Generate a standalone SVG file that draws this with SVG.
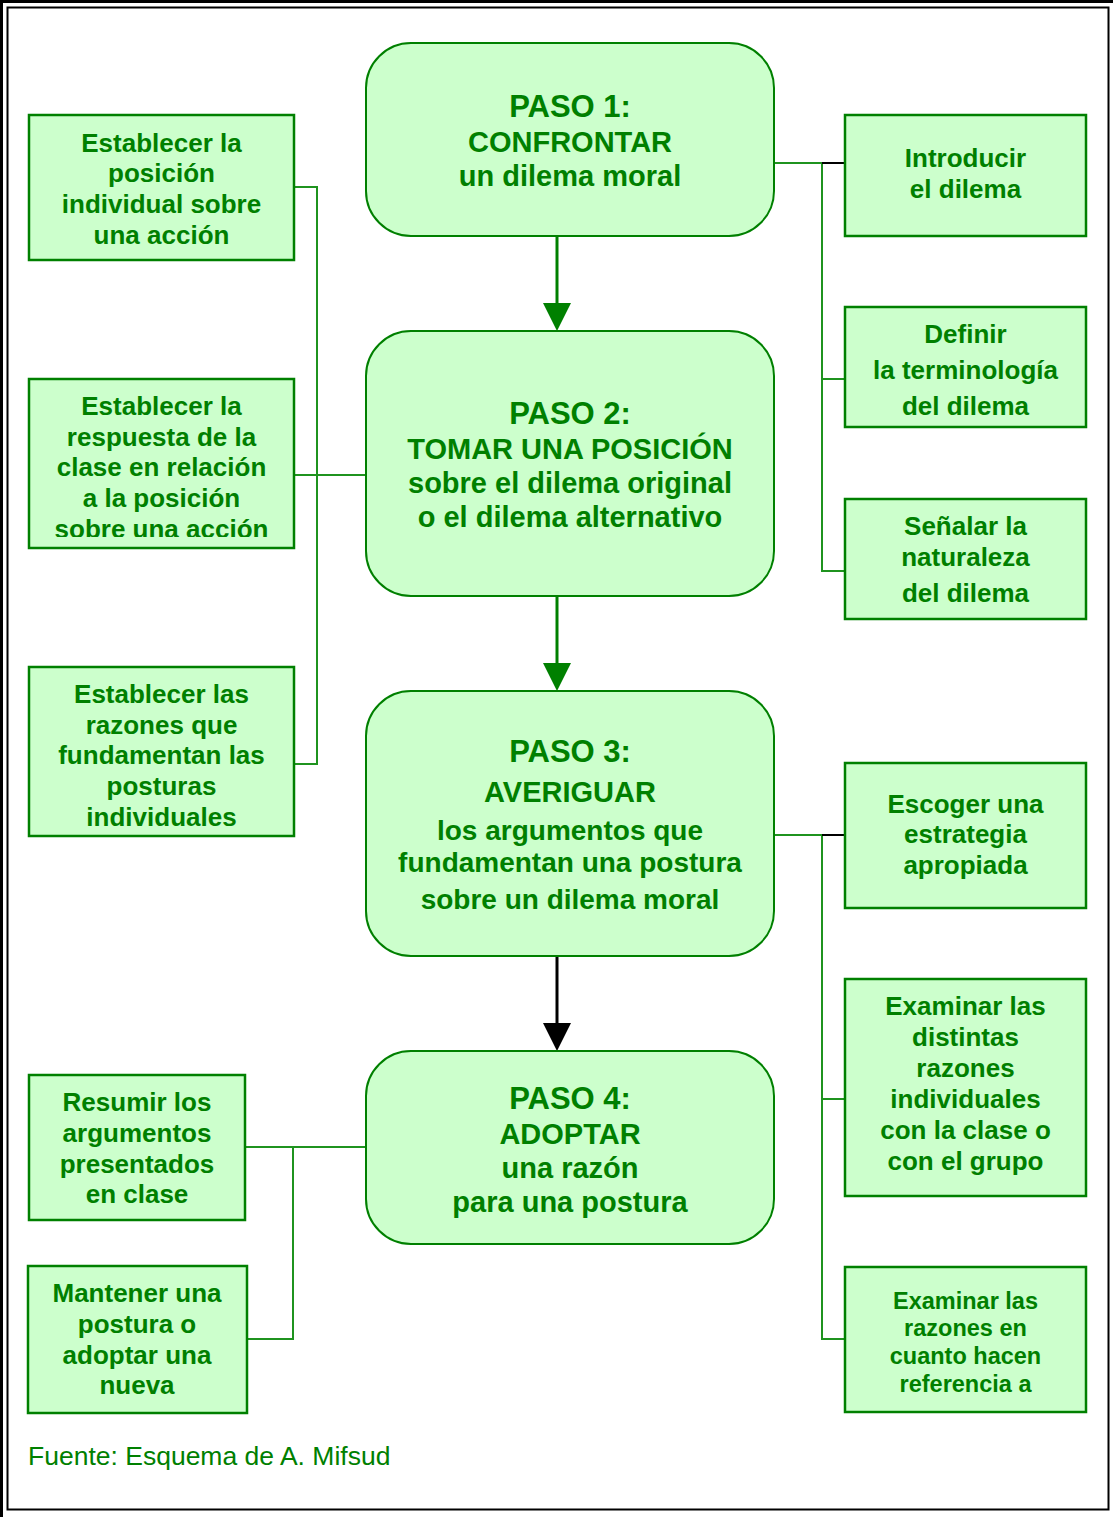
<svg xmlns="http://www.w3.org/2000/svg" width="1113" height="1517" viewBox="0 0 1113 1517">
<style>
.main{fill:#ccffcc;stroke:#008000;stroke-width:2}
.box{fill:#ccffcc;stroke:#008000;stroke-width:2.5}
.t{font-family:"Liberation Sans",Arial,sans-serif;font-weight:bold;fill:#008000;text-anchor:middle}
.h{font-size:31px}
.m{font-size:29px}
.s{font-size:26px}
.xs{font-size:23.5px}
.ln{stroke:#1f931f;stroke-width:2;fill:none}
.arr{stroke:#008000;stroke-width:3;fill:none}
.blk{stroke:#000;stroke-width:2;fill:none}
.foot{font-family:"Liberation Sans",Arial,sans-serif;font-size:26.5px;fill:#008000}
</style>
<defs>
<clipPath id="c2"><rect x="29" y="379" width="265" height="158"/></clipPath>
<clipPath id="c6"><rect x="845" y="1267" width="241" height="131"/></clipPath>
</defs>
<rect x="0" y="0" width="1113" height="1517" fill="#fff"/>
<path d="M1.5,1517 V1.5 H1113" stroke="#000" stroke-width="3" fill="none"/>
<rect x="7.5" y="7.5" width="1101" height="1502" fill="none" stroke="#000" stroke-width="2"/>

<g id="connectors">
<line class="arr" x1="557" y1="236" x2="557" y2="303"/>
<path d="M543,303 L571,303 L557,331 Z" fill="#008000"/>
<line class="arr" x1="557" y1="596" x2="557" y2="663"/>
<path d="M543,663 L571,663 L557,691 Z" fill="#008000"/>
<line x1="557" y1="956" x2="557" y2="1023" stroke="#000" stroke-width="3"/>
<path d="M543,1023 L571,1023 L557,1051 Z" fill="#000"/>
<path class="ln" d="M294,187 H317 V764 H294 M294,475 H366"/>
<path class="ln" d="M774,163 H822 V571 H845 M822,379 H845"/>
<line class="blk" x1="822" y1="163" x2="845" y2="163"/>
<path class="ln" d="M774,835 H822 V1339 H845 M822,1099 H845"/>
<line class="blk" x1="822" y1="835" x2="845" y2="835"/>
<path class="ln" d="M245,1147 H366 M293,1147 V1339 H247"/>
</g>

<g id="paso1">
<rect class="main" x="366" y="43" width="408" height="193" rx="45"/>
<text class="t h" x="570" y="117">PASO 1:</text>
<text class="t m" x="570" y="152">CONFRONTAR</text>
<text class="t m" x="570" y="186">un dilema moral</text>
</g>
<g id="paso2">
<rect class="main" x="366" y="331" width="408" height="265" rx="45"/>
<text class="t h" x="570" y="424">PASO 2:</text>
<text class="t m" x="570" y="459">TOMAR UNA POSICIÓN</text>
<text class="t m" x="570" y="493">sobre el dilema original</text>
<text class="t m" x="570" y="527">o el dilema alternativo</text>
</g>
<g id="paso3">
<rect class="main" x="366" y="691" width="408" height="265" rx="45"/>
<text class="t h" x="570" y="762">PASO 3:</text>
<text class="t m" x="570" y="802">AVERIGUAR</text>
<text class="t" style="font-size:28px" x="570" y="840">los argumentos que</text>
<text class="t" style="font-size:28px" x="570" y="872">fundamentan una postura</text>
<text class="t" style="font-size:28px" x="570" y="909">sobre un dilema moral</text>
</g>
<g id="paso4">
<rect class="main" x="366" y="1051" width="408" height="193" rx="45"/>
<text class="t h" x="570" y="1109">PASO 4:</text>
<text class="t m" x="570" y="1144">ADOPTAR</text>
<text class="t m" x="570" y="1178">una razón</text>
<text class="t m" x="570" y="1212">para una postura</text>
</g>

<g id="left1">
<rect class="box" x="29" y="115" width="265" height="145"/>
<text class="t s" x="161.5" y="152">Establecer la</text>
<text class="t s" x="161.5" y="182">posición</text>
<text class="t s" x="161.5" y="213">individual sobre</text>
<text class="t s" x="161.5" y="244">una acción</text>
</g>
<g id="left2">
<rect class="box" x="29" y="379" width="265" height="169"/>
<g clip-path="url(#c2)">
<text class="t s" x="161.5" y="415">Establecer la</text>
<text class="t s" x="161.5" y="446">respuesta de la</text>
<text class="t s" x="161.5" y="476">clase en relación</text>
<text class="t s" x="161.5" y="507">a la posición</text>
<text class="t s" x="161.5" y="538">sobre una acción</text>
</g>
</g>
<g id="left3">
<rect class="box" x="29" y="667" width="265" height="169"/>
<text class="t s" x="161.5" y="703">Establecer las</text>
<text class="t s" x="161.5" y="734">razones que</text>
<text class="t s" x="161.5" y="764">fundamentan las</text>
<text class="t s" x="161.5" y="795">posturas</text>
<text class="t s" x="161.5" y="826">individuales</text>
</g>
<g id="left4">
<rect class="box" x="29" y="1075" width="216" height="145"/>
<text class="t s" x="137" y="1111">Resumir los</text>
<text class="t s" x="137" y="1142">argumentos</text>
<text class="t s" x="137" y="1173">presentados</text>
<text class="t s" x="137" y="1203">en clase</text>
</g>
<g id="left5">
<rect class="box" x="28" y="1266" width="219" height="147"/>
<text class="t s" x="137" y="1302">Mantener una</text>
<text class="t s" x="137" y="1333">postura o</text>
<text class="t s" x="137" y="1364">adoptar una</text>
<text class="t s" x="137" y="1394">nueva</text>
</g>

<g id="right1">
<rect class="box" x="845" y="115" width="241" height="121"/>
<text class="t s" x="965.5" y="167">Introducir</text>
<text class="t s" x="965.5" y="198">el dilema</text>
</g>
<g id="right2">
<rect class="box" x="845" y="307" width="241" height="120"/>
<text class="t s" x="965.5" y="343">Definir</text>
<text class="t s" x="965.5" y="379">la terminología</text>
<text class="t s" x="965.5" y="415">del dilema</text>
</g>
<g id="right3">
<rect class="box" x="845" y="499" width="241" height="120"/>
<text class="t s" x="965.5" y="535">Señalar la</text>
<text class="t s" x="965.5" y="566">naturaleza</text>
<text class="t s" x="965.5" y="602">del dilema</text>
</g>
<g id="right4">
<rect class="box" x="845" y="763" width="241" height="145"/>
<text class="t s" x="965.5" y="813">Escoger una</text>
<text class="t s" x="965.5" y="843">estrategia</text>
<text class="t s" x="965.5" y="874">apropiada</text>
</g>
<g id="right5">
<rect class="box" x="845" y="979" width="241" height="217"/>
<text class="t s" x="965.5" y="1015">Examinar las</text>
<text class="t s" x="965.5" y="1046">distintas</text>
<text class="t s" x="965.5" y="1077">razones</text>
<text class="t s" x="965.5" y="1108">individuales</text>
<text class="t s" x="965.5" y="1139">con la clase o</text>
<text class="t s" x="965.5" y="1170">con el grupo</text>
</g>
<g id="right6">
<rect class="box" x="845" y="1267" width="241" height="145"/>
<g clip-path="url(#c6)">
<text class="t xs" x="965.5" y="1309">Examinar las</text>
<text class="t xs" x="965.5" y="1336">razones en</text>
<text class="t xs" x="965.5" y="1364">cuanto hacen</text>
<text class="t xs" x="965.5" y="1392">referencia a</text>
</g>
</g>

<text class="foot" x="28" y="1465">Fuente: Esquema de A. Mifsud</text>
</svg>
